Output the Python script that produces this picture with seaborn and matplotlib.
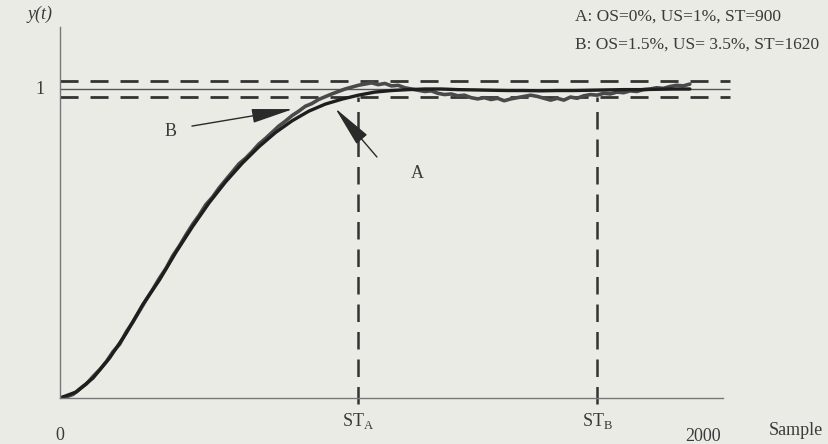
import matplotlib
matplotlib.use("Agg")
import matplotlib.pyplot as plt
import seaborn as sns
import pandas as pd

# response A (smooth), every 50 samples
samples_a = [0, 50, 100, 150, 200, 250, 300, 350, 400, 450, 500, 550, 600, 650,
             700, 750, 800, 850, 900, 950, 1000, 1050, 1100, 1150, 1200, 1250,
             1300, 1350, 1400, 1450, 1500, 1550, 1600, 1650, 1700, 1750, 1800,
             1850, 1900]
y_a = [0.0, 0.02, 0.065, 0.13, 0.21, 0.303, 0.382, 0.472, 0.555, 0.632, 0.70,
       0.76, 0.813, 0.859, 0.897, 0.928, 0.951, 0.967, 0.98, 0.99, 0.995, 0.998,
       1.0, 1.0, 0.998, 0.997, 0.996, 0.995, 0.995, 0.994, 0.995, 0.995, 0.996,
       0.997, 0.998, 0.998, 0.999, 1.0, 1.0]

# response B (noisy), every 20 samples
samples_b = list(range(0, 1901, 20))
y_b = [0.000, 0.004, 0.012, 0.030, 0.046, 0.070, 0.092, 0.118, 0.150, 0.174,
       0.214, 0.246, 0.282, 0.318, 0.352, 0.388, 0.420, 0.460, 0.492, 0.528,
       0.562, 0.592, 0.626, 0.650, 0.680, 0.706, 0.732, 0.758, 0.776, 0.798,
       0.822, 0.840, 0.860, 0.880, 0.896, 0.914, 0.928, 0.944, 0.953, 0.966,
       0.975, 0.984, 0.992, 1.000, 1.006, 1.012, 1.016, 1.020, 1.014, 1.018,
       1.010, 1.012, 1.004, 1.000, 0.996, 0.992, 0.994, 0.986, 0.982, 0.984,
       0.978, 0.980, 0.972, 0.968, 0.972, 0.966, 0.970, 0.962, 0.968, 0.972,
       0.976, 0.980, 0.976, 0.970, 0.964, 0.970, 0.964, 0.974, 0.970, 0.978,
       0.982, 0.980, 0.986, 0.984, 0.990, 0.988, 0.994, 0.992, 0.998, 1.000,
       1.004, 1.002, 1.008, 1.012, 1.010, 1.016]

setpoint = 1.0
band = 0.025
st_a = 900
st_b = 1620
x_end = 2000
info_lines = ["A: OS=0%, US=1%, ST=900", "B: OS=1.5%, US= 3.5%, ST=1620"]

df_a = pd.DataFrame({"Sample": samples_a, "y": y_a})
df_b = pd.DataFrame({"Sample": samples_b, "y": y_b})

sns.set_style("white")
plt.rcParams["font.family"] = ["Liberation Serif", "DejaVu Serif"]
plt.rcParams["mathtext.fontset"] = "custom"
plt.rcParams["mathtext.rm"] = "Liberation Serif"

bg = "#ebebe6"
ink = "#3a3a3a"
fig = plt.figure(figsize=(8.29, 4.44), dpi=100, facecolor=bg)
ax = fig.add_axes([60 / 829, 46 / 444, 2050 * 0.3315 / 829, 370.8 / 444])
ax.set_facecolor(bg)
ax.set_xlim(0, 2050)
ax.set_ylim(0, 1.2)

# reference line and settling band
ax.hlines(setpoint, 0, 2020, color="#555555", lw=1.0)
for lvl in (setpoint + band, setpoint - band):
    ax.hlines(lvl, 0, 2020, color="#333333", lw=2.0, linestyles=(0, (6.5, 4.3)))

# settling time markers
for st in (st_a, st_b):
    ax.vlines(st, -0.02, setpoint - band, color="#333333", lw=1.8,
              linestyles=(0, (7, 4)), clip_on=False)

sns.lineplot(data=df_b, x="Sample", y="y", ax=ax, color="#4a4a4a", lw=2.6)
sns.lineplot(data=df_a, x="Sample", y="y", ax=ax, color="#1e1e1e", lw=2.4)

# arrows and labels
arrow = dict(arrowstyle="-|>,head_length=1.3,head_width=0.22", color="#2a2a2a",
             lw=1.0, mutation_scale=20, shrinkA=0, shrinkB=0)
ax.annotate("", xy=(703, 0.935), xytext=(398, 0.880), arrowprops=arrow)
ax.annotate("", xy=(830, 0.938), xytext=(956, 0.78), arrowprops=arrow)
ax.text(332, 0.861, "B", fontsize=13, color=ink, ha="center", va="center")
ax.text(1077, 0.728, "A", fontsize=13, color=ink, ha="center", va="center")

ax.text(1553, 1.233, info_lines[0], fontsize=12.5, color=ink, ha="left", va="center", clip_on=False)
ax.text(1553, 1.142, info_lines[1], fontsize=12.5, color=ink, ha="left", va="center", clip_on=False)

# axes
for side in ("top", "right"):
    ax.spines[side].set_visible(False)
ax.spines["left"].set_color("#777777")
ax.spines["bottom"].set_color("#777777")
ax.spines["left"].set_linewidth(1.0)
ax.spines["bottom"].set_linewidth(1.0)
ax.spines["bottom"].set_bounds(0, x_end)
ax.set_xticks([x_end])
ax.set_xticklabels([])
ax.tick_params(axis="x", direction="inout", length=12, width=1.0, color="#777777")
ax.set_yticks([])
ax.set_xlabel("")
ax.set_ylabel("")

ax.text(0, -0.12, "0", fontsize=13, color=ink, ha="center", va="center", clip_on=False)
ax.text(st_a, -0.075, r"ST$_{\mathrm{A}}$", fontsize=13, color=ink, ha="center", va="center", clip_on=False)
ax.text(st_b, -0.075, r"ST$_{\mathrm{B}}$", fontsize=13, color=ink, ha="center", va="center", clip_on=False)
ax.text(1940, -0.125, "2000", fontsize=13, color=ink, ha="center", va="center", clip_on=False)
ax.text(2220, -0.105, "Sample", fontsize=13, color=ink, ha="center", va="center", clip_on=False)
ax.text(-60, setpoint, "1", fontsize=13, color=ink, ha="center", va="center", clip_on=False)
ax.text(-60, 1.24, "y(t)", fontsize=13, color=ink, ha="center", va="center",
        style="italic", clip_on=False)

fig.savefig("out.png", dpi=100, facecolor=bg)
